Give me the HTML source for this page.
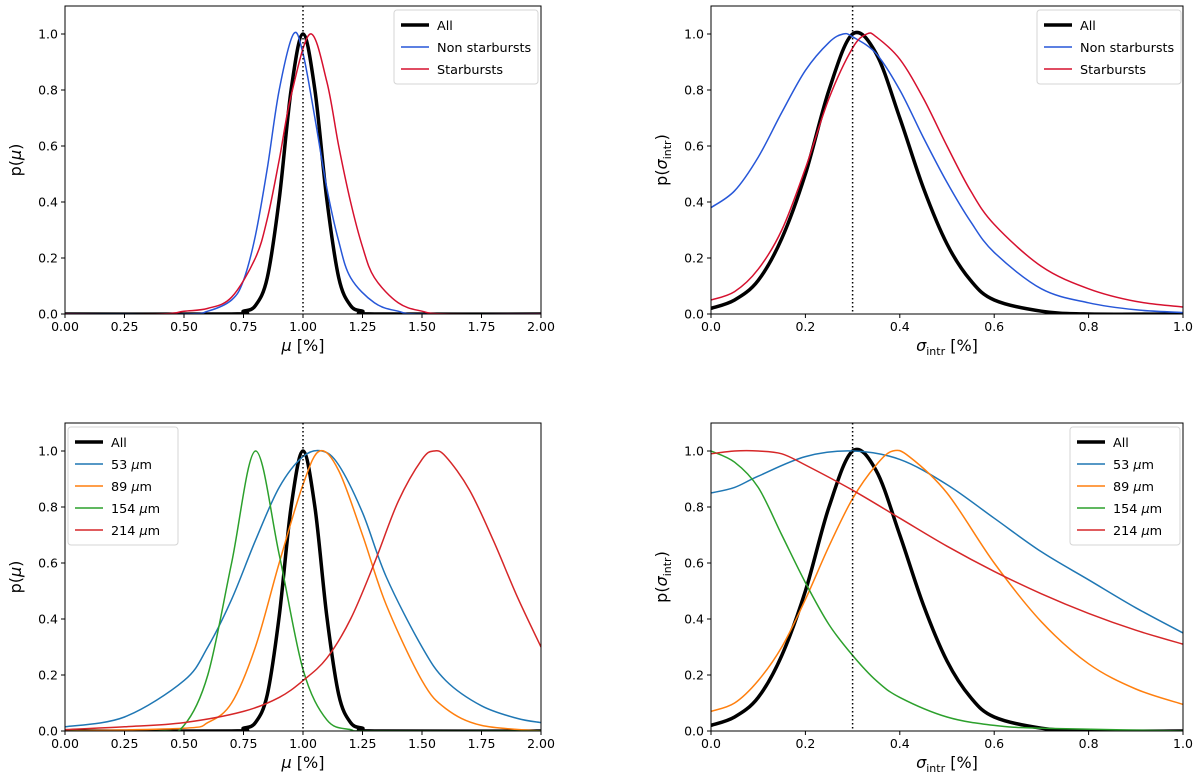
<!DOCTYPE html>
<html><head><meta charset="utf-8"><style>
body{margin:0;background:#fff}
svg{display:block;font-family:"DejaVu Sans","Liberation Sans",sans-serif}
</style></head><body>
<svg id="fig" width="1200" height="782" viewBox="0 0 1200 782"></svg>
<script>
// ---- data ----
const allMuX=[0,0.7,0.75,0.8,0.85,0.9,0.95,1.0,1.05,1.1,1.15,1.2,1.25,1.3,2];
const allMuY=[0,0,0.01,0.03,0.13,0.41,0.8,1.0,0.8,0.41,0.13,0.03,0.01,0,0];
const nsMuX=[0,0.5,0.6,0.7,0.75,0.8,0.85,0.9,0.96,1.0,1.05,1.1,1.15,1.2,1.3,1.4,1.5,2];
const nsMuY=[0,0,0.01,0.05,0.12,0.28,0.52,0.8,1.0,0.93,0.7,0.45,0.26,0.13,0.04,0.01,0,0];
const sbMuX=[0,0.4,0.5,0.6,0.7,0.8,0.85,0.9,0.95,1.03,1.1,1.15,1.2,1.25,1.3,1.4,1.5,1.6,2];
const sbMuY=[0,0,0.01,0.02,0.06,0.2,0.34,0.55,0.78,1.0,0.83,0.6,0.4,0.24,0.13,0.04,0.01,0,0];
const allSgX=[0,0.05,0.1,0.15,0.2,0.25,0.3,0.35,0.4,0.45,0.5,0.55,0.6,0.7,0.8,1];
const allSgY=[0.02,0.05,0.12,0.27,0.5,0.8,1.0,0.93,0.7,0.45,0.25,0.12,0.05,0.01,0,0];
const nsSgX=[0,0.05,0.1,0.15,0.2,0.25,0.28,0.3,0.35,0.4,0.45,0.5,0.55,0.6,0.7,0.8,0.9,1];
const nsSgY=[0.38,0.44,0.56,0.72,0.87,0.97,1.0,0.99,0.93,0.8,0.63,0.47,0.33,0.22,0.09,0.04,0.015,0.005];
const sbSgX=[0,0.05,0.1,0.15,0.2,0.25,0.3,0.33,0.35,0.4,0.45,0.5,0.55,0.6,0.7,0.8,0.9,1];
const sbSgY=[0.05,0.08,0.16,0.3,0.52,0.77,0.95,1.0,0.99,0.91,0.77,0.6,0.44,0.32,0.17,0.09,0.045,0.025];
const w53MuX=[0,0.25,0.5,0.6,0.7,0.8,0.9,1.0,1.08,1.15,1.25,1.35,1.5,1.6,1.75,1.9,2];
const w53MuY=[0.015,0.05,0.18,0.3,0.47,0.68,0.87,0.98,1.0,0.95,0.78,0.55,0.3,0.18,0.09,0.045,0.03];
const w89MuX=[0,0.5,0.6,0.7,0.8,0.9,1.0,1.07,1.15,1.25,1.35,1.5,1.6,1.75,2];
const w89MuY=[0,0.01,0.03,0.1,0.3,0.6,0.88,1.0,0.93,0.7,0.45,0.18,0.08,0.02,0];
const w154MuX=[0,0.4,0.5,0.6,0.7,0.8,0.9,1.0,1.1,1.2,1.3,2];
const w154MuY=[0,0,0.02,0.2,0.6,1.0,0.63,0.22,0.04,0.005,0,0];
const w214MuX=[0,0.25,0.5,0.75,0.9,1.0,1.1,1.2,1.3,1.4,1.5,1.55,1.6,1.7,1.8,1.9,2.0];
const w214MuY=[0.005,0.015,0.03,0.07,0.12,0.18,0.26,0.4,0.6,0.82,0.97,1.0,0.98,0.86,0.68,0.48,0.3];
const w53SgX=[0,0.05,0.1,0.2,0.3,0.4,0.5,0.6,0.7,0.8,0.9,1.0];
const w53SgY=[0.85,0.87,0.91,0.98,1.0,0.97,0.88,0.76,0.64,0.54,0.44,0.35];
const w89SgX=[0,0.05,0.1,0.15,0.2,0.25,0.3,0.35,0.385,0.42,0.5,0.6,0.7,0.8,0.9,1.0];
const w89SgY=[0.07,0.1,0.18,0.3,0.47,0.66,0.83,0.95,1.0,0.98,0.85,0.6,0.39,0.24,0.15,0.095];
const w154SgX=[0,0.05,0.1,0.15,0.2,0.25,0.3,0.35,0.4,0.5,0.6,0.7,1];
const w154SgY=[1.0,0.96,0.87,0.7,0.53,0.38,0.27,0.18,0.12,0.05,0.02,0.01,0];
const w214SgX=[0,0.05,0.1,0.15,0.2,0.3,0.4,0.5,0.6,0.7,0.8,0.9,1.0];
const w214SgY=[0.99,1.0,1.0,0.99,0.95,0.86,0.76,0.66,0.57,0.49,0.42,0.36,0.31];
const muTicks=["0.00","0.25","0.50","0.75","1.00","1.25","1.50","1.75","2.00"];
const sgTicks=["0.0","0.2","0.4","0.6","0.8","1.0"];
const yTicks=["0.0","0.2","0.4","0.6","0.8","1.0"];

const NS="http://www.w3.org/2000/svg";
const fig=document.getElementById('fig');
function el(t,a,p){const e=document.createElementNS(NS,t);for(const k in a)e.setAttribute(k,a[k]);(p||fig).appendChild(e);return e;}
function smooth(pts){let d="M"+pts[0][0]+","+pts[0][1];for(let i=0;i<pts.length-1;i++){const p0=pts[i-1]||pts[i],p1=pts[i],p2=pts[i+1],p3=pts[i+2]||p2;
 const c1=[p1[0]+(p2[0]-p0[0])/6,p1[1]+(p2[1]-p0[1])/6],c2=[p2[0]-(p3[0]-p1[0])/6,p2[1]-(p3[1]-p1[1])/6];
 d+=" C"+c1[0]+","+c1[1]+" "+c2[0]+","+c2[1]+" "+p2[0]+","+p2[1];}return d;}

function panel(name,L,R,T,B,xmax,xt,xlabel,ylabel,series,legend){
 const g=el('g',{});
 
 
 const xs=v=>L+(R-L)*v/xmax, ys=v=>B-(B-T)*v/1.1;
 const clip=el('clipPath',{id:name+'-clip'},g);el('rect',{x:L,y:T,width:R-L,height:B-T},clip);
 const cg=el('g',{'clip-path':'url(#'+name+'-clip)'},g);
 series.forEach(s=>{
  const p=el('path',{d:smooth(s.x.map((v,i)=>[xs(v),ys(s.y[i])])),fill:'none',stroke:s.c,'stroke-width':s.w,'stroke-linejoin':'round'},cg);
  
  
 });
 const ref=xmax===2?1.0:0.3;
 const dl=el('line',{x1:xs(ref),x2:xs(ref),y1:T,y2:B,stroke:'#000','stroke-width':1.5,'stroke-dasharray':'1.5,2.5'},g);
 
 
 el('rect',{x:L,y:T,width:R-L,height:B-T,fill:'none',stroke:'#000','stroke-width':1},g);
 xt.forEach((t,i)=>{const x=xs(xmax*i/(xt.length-1));el('line',{x1:x,x2:x,y1:B,y2:B+4,stroke:'#000'},g);
  const tx=el('text',{x:x,y:B+17,'font-size':12.5,'text-anchor':'middle'},g);tx.textContent=t;
  
  });
 yTicks.forEach((t,i)=>{const y=ys(i*0.2);el('line',{x1:L-4,x2:L,y1:y,y2:y,stroke:'#000'},g);
  const tx=el('text',{x:L-7,y:y+4.5,'font-size':12.5,'text-anchor':'end'},g);tx.textContent=t;
  
  });
 const xl=el('text',{x:(L+R)/2,y:B+37,'font-size':16,'text-anchor':'middle'},g);xl.innerHTML=xlabel;
 
 
 const yl=el('text',{x:0,y:0,'font-size':16,'text-anchor':'middle',transform:'translate('+(L-44)+','+((T+B)/2)+') rotate(-90)'},g);yl.innerHTML=ylabel;
 
 
 const lg=el('g',{},g);
 
 
 el('rect',{x:legend.x,y:legend.y,width:legend.w,height:8+series.length*22,rx:3,fill:'#fff','fill-opacity':0.85,stroke:'#d5d5d5'},lg);
 series.forEach((s,i)=>{const y=legend.y+15+i*22;
  el('line',{x1:legend.x+7,x2:legend.x+35,y1:y,y2:y,stroke:s.c,'stroke-width':s.w},lg);
  const t=el('text',{x:legend.x+43,y:y+5,'font-size':12.8},lg);t.innerHTML=s.label;
  
  });
}
const BLK='#000',BL='#2757d8',RD='#d6112f',C1='#1f77b4',C2='#ff7f0e',C3='#2ca02c',C4='#d62728';
const mu='<tspan font-style="italic">μ</tspan>';
const um='<tspan font-style="italic">μ</tspan>m';
const sg='<tspan font-style="italic">σ</tspan><tspan font-size="11" dy="4">intr</tspan><tspan dy="-4">';
panel('top-left-panel',65,541,6,314,2,muTicks,mu+' [%]','p('+mu+')',[
 {n:'all',x:allMuX,y:allMuY,c:BLK,w:3.5,label:'All'},
 {n:'non-starbursts',x:nsMuX,y:nsMuY,c:BL,w:1.5,label:'Non starbursts'},
 {n:'starbursts',x:sbMuX,y:sbMuY,c:RD,w:1.5,label:'Starbursts'}],{x:394,y:10,w:144});
panel('top-right-panel',711,1183,6,314,1,sgTicks,sg+' [%]</tspan>','p('+sg+')</tspan>',[
 {n:'all',x:allSgX,y:allSgY,c:BLK,w:3.5,label:'All'},
 {n:'non-starbursts',x:nsSgX,y:nsSgY,c:BL,w:1.5,label:'Non starbursts'},
 {n:'starbursts',x:sbSgX,y:sbSgY,c:RD,w:1.5,label:'Starbursts'}],{x:1037,y:10,w:144});
panel('bottom-left-panel',65,541,423,731,2,muTicks,mu+' [%]','p('+mu+')',[
 {n:'all',x:allMuX,y:allMuY,c:BLK,w:3.5,label:'All'},
 {n:'53um',x:w53MuX,y:w53MuY,c:C1,w:1.5,label:'53 '+um},
 {n:'89um',x:w89MuX,y:w89MuY,c:C2,w:1.5,label:'89 '+um},
 {n:'154um',x:w154MuX,y:w154MuY,c:C3,w:1.5,label:'154 '+um},
 {n:'214um',x:w214MuX,y:w214MuY,c:C4,w:1.5,label:'214 '+um}],{x:68,y:427,w:110});
panel('bottom-right-panel',711,1183,423,731,1,sgTicks,sg+' [%]</tspan>','p('+sg+')</tspan>',[
 {n:'all',x:allSgX,y:allSgY,c:BLK,w:3.5,label:'All'},
 {n:'53um',x:w53SgX,y:w53SgY,c:C1,w:1.5,label:'53 '+um},
 {n:'89um',x:w89SgX,y:w89SgY,c:C2,w:1.5,label:'89 '+um},
 {n:'154um',x:w154SgX,y:w154SgY,c:C3,w:1.5,label:'154 '+um},
 {n:'214um',x:w214SgX,y:w214SgY,c:C4,w:1.5,label:'214 '+um}],{x:1070,y:427,w:110});
</script>
</body></html>
